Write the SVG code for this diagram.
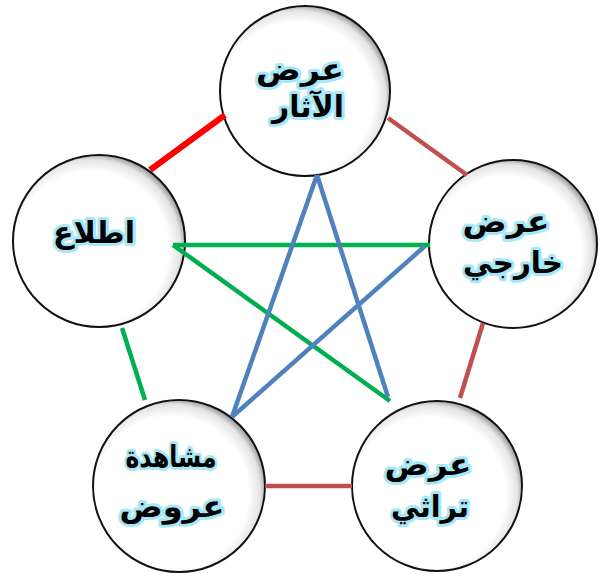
<svg xmlns="http://www.w3.org/2000/svg" width="599" height="574" viewBox="0 0 599 574">
<defs>
<radialGradient id="shade" cx="0.46" cy="0.54" r="0.56" fx="0.44" fy="0.56">
<stop offset="0" stop-color="#ffffff"/>
<stop offset="0.8" stop-color="#ffffff"/>
<stop offset="0.92" stop-color="#e4e4e4"/>
<stop offset="1" stop-color="#8a8a8a"/>
</radialGradient>
</defs>
<style>
.node circle{fill:url(#shade);stroke:#111;stroke-width:2}
.lbl{font-family:"DejaVu Sans",sans-serif;font-size:30px;font-weight:bold;fill:#000;stroke:#a6e8f8;stroke-width:6;stroke-linejoin:round;paint-order:stroke;text-anchor:middle;direction:rtl}
.c{fill:none;stroke-linecap:butt}
.red{stroke:#ff0000;stroke-width:6}
.brn{stroke:#c0504d;stroke-width:4.5}
.grn{stroke:#00b050;stroke-width:4.5}
.blu{stroke:#4f81bd;stroke-width:4.5}
</style>
<rect width="599" height="574" fill="#ffffff"/>
<g id="node-top" class="node">
<circle cx="305" cy="91" r="85"/>
<text class="lbl" x="300" y="80" textLength="88" lengthAdjust="spacingAndGlyphs">عرض</text>
<text class="lbl" x="308" y="117" textLength="72" lengthAdjust="spacingAndGlyphs">الآثار</text>
</g>
<g id="node-left" class="node">
<circle cx="99" cy="241" r="86"/>
<text class="lbl" x="94" y="243" textLength="82" lengthAdjust="spacingAndGlyphs">اطلاع</text>
</g>
<g id="node-right" class="node">
<circle cx="513" cy="244" r="84"/>
<text class="lbl" x="506" y="232" textLength="87" lengthAdjust="spacingAndGlyphs">عرض</text>
<text class="lbl" x="513" y="273" textLength="100" lengthAdjust="spacingAndGlyphs">خارجي</text>
</g>
<g id="node-bottom-left" class="node">
<circle cx="179" cy="486" r="86"/>
<text class="lbl" x="171" y="467" textLength="91" lengthAdjust="spacingAndGlyphs">مشاهدة</text>
<text class="lbl" x="172" y="517" textLength="105" lengthAdjust="spacingAndGlyphs">عروض</text>
</g>
<g id="node-bottom-right" class="node">
<circle cx="437" cy="486" r="85"/>
<text class="lbl" x="428" y="475" textLength="87" lengthAdjust="spacingAndGlyphs">عرض</text>
<text class="lbl" x="430" y="517" textLength="78" lengthAdjust="spacingAndGlyphs">تراثي</text>
</g>
<g id="connectors" class="c">
<line class="red" x1="150" y1="170" x2="225" y2="115"/>
<line class="brn" x1="388" y1="118" x2="467" y2="175"/>
<line class="brn" x1="483" y1="323" x2="460" y2="398"/>
<line class="brn" x1="265" y1="486" x2="352" y2="486"/>
<line class="grn" x1="122" y1="328" x2="145" y2="400"/>
<line class="grn" x1="173" y1="245" x2="430" y2="245"/>
<line class="grn" x1="173" y1="245" x2="390" y2="401"/>
<line class="blu" x1="317" y1="175" x2="232" y2="417"/>
<line class="blu" x1="317" y1="175" x2="388" y2="397"/>
<line class="blu" x1="425" y1="246" x2="232" y2="417"/>
</g>
</svg>
